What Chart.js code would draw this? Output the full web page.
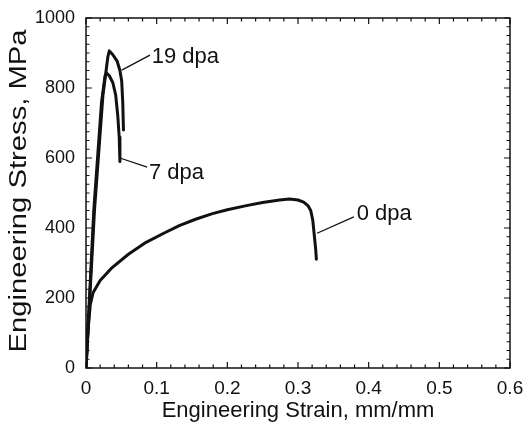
<!DOCTYPE html>
<html>
<head>
<meta charset="utf-8">
<script src="https://cdn.jsdelivr.net/npm/chart.js@4.4.1/dist/chart.umd.min.js"></script>
<style>
  body { margin: 0; background: #fff; }
</style>
</head>
<body>
<canvas id="stressChart" width="526" height="434" style="width:526px;height:434px"></canvas>
<script>
// engineering strain (mm/mm) and stress (MPa)
var strain0  = [0, 0.003, 0.006, 0.010, 0.020, 0.037, 0.060, 0.085, 0.110, 0.132, 0.155, 0.179, 0.200, 0.227, 0.250, 0.274, 0.288, 0.300, 0.308, 0.314, 0.318, 0.321, 0.323, 0.325, 0.326];
var stress0  = [0, 110, 180, 215, 250, 287, 325, 359, 385, 407, 425, 441, 452, 464, 473, 480, 483, 480, 474, 464, 450, 421, 380, 340, 311];
var strain7  = [0, 0.011, 0.022, 0.027, 0.029, 0.033, 0.038, 0.042, 0.045, 0.047, 0.048];
var stress7  = [0, 450, 760, 835, 843, 835, 815, 780, 720, 660, 590];
var strain19 = [0, 0.012, 0.024, 0.031, 0.033, 0.038, 0.044, 0.048, 0.0505, 0.052, 0.053];
var stress19 = [0, 450, 780, 890, 906, 895, 877, 850, 820, 760, 680];

var xTicks = [0, 0.1, 0.2, 0.3, 0.4, 0.5, 0.6];
var yTicks = [0, 200, 400, 600, 800, 1000];

// curve labels: leader line from [x1,y1] to [x2,y2], text at [tx,ty] (data units)
var curveLabels = [
  { text: '19 dpa', x1: 0.0506, y1: 851, x2: 0.0905, y2: 894, tx: 0.093, ty: 889 },
  { text: '7 dpa',  x1: 0.048,  y1: 600, x2: 0.0865, y2: 574, tx: 0.089, ty: 557 },
  { text: '0 dpa',  x1: 0.327,  y1: 385, x2: 0.379,  y2: 432, tx: 0.383, ty: 440 }
];

function toPoints(xs, ys) {
  return xs.map(function (x, i) { return { x: x, y: ys[i] }; });
}

var ink = '#111';
var fontFamily = '"Liberation Sans", Arial, Helvetica, sans-serif';

var framePlugin = {
  id: 'frame',
  afterDraw: function (chart) {
    var ctx = chart.ctx;
    var a = chart.chartArea;
    var xs = chart.scales.x;
    var ys = chart.scales.y;
    ctx.save();
    ctx.strokeStyle = ink;
    ctx.lineWidth = 1.5;
    ctx.strokeRect(a.left, a.top, a.right - a.left, a.bottom - a.top);

    // inward ticks on all four sides
    ctx.lineWidth = 1.2;
    ctx.beginPath();
    var i, v, p, len;
    for (i = 0; i <= 30; i++) {
      v = i * 0.02;
      p = xs.getPixelForValue(v);
      len = (i % 5 === 0) ? 6 : 3.5;
      ctx.moveTo(p, a.bottom); ctx.lineTo(p, a.bottom - len);
      ctx.moveTo(p, a.top); ctx.lineTo(p, a.top + len);
    }
    for (i = 0; i <= 40; i++) {
      v = i * 25;
      p = ys.getPixelForValue(v);
      len = (i % 8 === 0) ? 6 : 3.5;
      ctx.moveTo(a.left, p); ctx.lineTo(a.left + len, p);
      ctx.moveTo(a.right, p); ctx.lineTo(a.right - len, p);
    }
    ctx.stroke();

    // leader lines and curve labels
    ctx.lineWidth = 1.3;
    ctx.fillStyle = ink;
    ctx.font = '22px ' + fontFamily;
    ctx.textBaseline = 'middle';
    ctx.textAlign = 'left';
    curveLabels.forEach(function (l) {
      ctx.beginPath();
      ctx.moveTo(xs.getPixelForValue(l.x1), ys.getPixelForValue(l.y1));
      ctx.lineTo(xs.getPixelForValue(l.x2), ys.getPixelForValue(l.y2));
      ctx.stroke();
      ctx.fillText(l.text, xs.getPixelForValue(l.tx), ys.getPixelForValue(l.ty));
    });

    // y axis title, stretched a little along its length like the scan
    ctx.save();
    ctx.translate(26, (a.top + a.bottom) / 2 - 2);
    ctx.rotate(-Math.PI / 2);
    ctx.scale(1.27, 1);
    ctx.font = '23px ' + fontFamily;
    ctx.textAlign = 'center';
    ctx.textBaseline = 'alphabetic';
    ctx.fillText('Engineering Stress, MPa', 0, 0);
    ctx.restore();

    ctx.restore();
  }
};

var ctx = document.getElementById('stressChart');

var stressChart = new Chart(ctx, {
  type: 'scatter',
  data: {
    datasets: [
      { label: '0 dpa',  data: toPoints(strain0, stress0) },
      { label: '7 dpa',  data: toPoints(strain7, stress7) },
      { label: '19 dpa', data: toPoints(strain19, stress19) }
    ]
  },
  options: {
    responsive: false,
    maintainAspectRatio: false,
    animation: false,
    layout: { padding: { top: 18, right: 16, left: 0, bottom: 0 } },
    elements: {
      point: { radius: 0 },
      line: { borderWidth: 3, borderColor: ink, tension: 0, fill: false }
    },
    datasets: {
      scatter: { showLine: true, borderColor: ink, backgroundColor: ink, borderWidth: 3, pointRadius: 0, borderJoinStyle: 'round', borderCapStyle: 'round' }
    },
    plugins: {
      legend: { display: false },
      tooltip: { enabled: false }
    },
    scales: {
      x: {
        type: 'linear',
        min: 0,
        max: 0.6,
        afterBuildTicks: function (scale) {
          scale.ticks = xTicks.map(function (v) { return { value: v }; });
        },
        afterFit: function (scale) {
          scale.height = 66;
          scale.paddingLeft = 0;
          scale.paddingRight = 0;
        },
        grid: { display: false, drawTicks: false },
        border: { display: false },
        ticks: {
          color: ink,
          padding: 9,
          maxRotation: 0,
          font: { size: 19, family: fontFamily },
          callback: function (v) { return String(Math.round(v * 10) / 10); }
        },
        title: {
          display: true,
          text: 'Engineering Strain, mm/mm',
          color: ink,
          font: { size: 22, family: fontFamily },
          padding: { top: 0, bottom: 10 }
        }
      },
      y: {
        type: 'linear',
        min: 0,
        max: 1000,
        afterBuildTicks: function (scale) {
          scale.ticks = yTicks.map(function (v) { return { value: v }; });
        },
        afterFit: function (scale) {
          scale.width = 86;
          scale.paddingTop = 0;
          scale.paddingBottom = 0;
        },
        grid: { display: false, drawTicks: false },
        border: { display: false },
        ticks: {
          color: ink,
          padding: 11,
          font: { size: 18, family: fontFamily },
          callback: function (v) { return String(v); }
        }
      }
    }
  },
  plugins: [framePlugin]
});
</script>
</body>
</html>
